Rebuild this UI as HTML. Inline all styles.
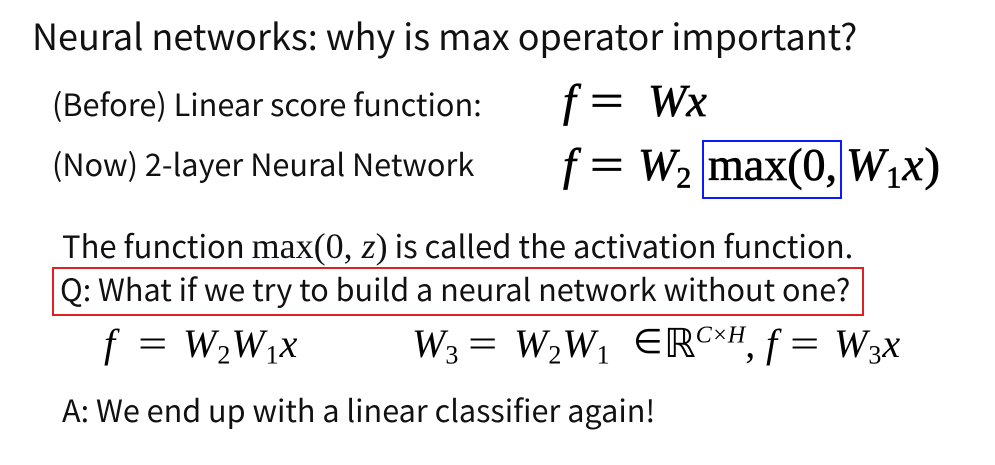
<!DOCTYPE html>
<html><head><meta charset="utf-8"><style>
body{margin:0;width:995px;height:465px;background:#fff;position:relative;overflow:hidden;font-family:"Noto Sans CJK SC","Liberation Sans",sans-serif;color:#111}
.t{position:absolute;white-space:nowrap;line-height:1}
.m{font-family:"Liberation Serif",serif;position:absolute;white-space:nowrap;line-height:1;color:#000}
.b{-webkit-text-stroke:0.7px #000}
i{font-style:italic}
sub{font-size:0.65em;vertical-align:-0.25em;line-height:0}
sup{font-size:0.6em;vertical-align:0.6em;line-height:0;font-style:italic}
</style></head><body>
<div class="t" style="left:32px;top:17px;font-size:36px">Neural networks: why is max operator important?</div>
<div class="t" style="left:52px;top:88px;font-size:30.7px">(Before) Linear score function:</div>
<div class="t" style="left:52px;top:148px;font-size:30.7px">(Now) 2-layer Neural Network</div>

<div class="m b" style="left:563px;top:78px;font-size:46px"><i>f</i></div>
<div class="m b" style="left:590px;top:78px;font-size:46px;transform:scaleX(1.3);transform-origin:left">=</div>
<div class="m b" style="left:648px;top:78px;font-size:46px"><i>Wx</i></div>

<div class="m b" style="left:563px;top:142px;font-size:46px"><i>f</i></div>
<div class="m b" style="left:590px;top:142px;font-size:46px;transform:scaleX(1.3);transform-origin:left">=</div>
<div class="m b" style="left:638px;top:142px;font-size:46px"><i>W</i><sub>2</sub></div>
<div class="m b" style="left:708px;top:142px;font-size:46px">max(0,</div>
<div class="m b" style="left:846px;top:142px;font-size:47px;letter-spacing:1px"><i>W</i><sub>1</sub><i>x</i>)</div>
<div style="position:absolute;left:702px;top:140px;width:136px;height:55px;border:2px solid #0a1aff"></div>

<div class="t" style="left:62px;top:228px;font-size:31px">The function <span style="font-family:'Liberation Serif',serif;font-size:36px">max(0, <i>z</i>)</span> is called the activation function.</div>
<div style="position:absolute;left:52px;top:267px;width:808px;height:45px;border:2px solid #e02020"></div>
<div class="t" style="left:60px;top:273px;font-size:30.6px">Q: What if we try to build a neural network without one?</div>

<div class="m" style="left:104px;top:324px;font-size:40px"><i>f</i></div>
<div class="m" style="left:138px;top:324px;font-size:40px;transform:scaleX(1.3);transform-origin:left">=</div>
<div class="m" style="left:183px;top:324px;font-size:40px;letter-spacing:1px"><i>W</i><sub>2</sub><i>W</i><sub>1</sub><i>x</i></div>

<div class="m" style="left:412px;top:324px;font-size:40px"><i>W</i><sub>3</sub></div>
<div class="m" style="left:468px;top:324px;font-size:40px;transform:scaleX(1.3);transform-origin:left">=</div>
<div class="m" style="left:514px;top:324px;font-size:40px;letter-spacing:1px"><i>W</i><sub>2</sub><i>W</i><sub>1</sub></div>
<div class="m" style="left:633px;top:326px;font-size:34px">∈</div>
<div class="m" style="left:664px;top:324px;font-size:40px">ℝ<sup>C×H</sup>,</div>
<div class="m" style="left:766px;top:324px;font-size:40px"><i>f</i></div>
<div class="m" style="left:790px;top:324px;font-size:40px;transform:scaleX(1.3);transform-origin:left">=</div>
<div class="m" style="left:834px;top:324px;font-size:40px;letter-spacing:1px"><i>W</i><sub>3</sub><i>x</i></div>

<div class="t" style="left:62px;top:394px;font-size:30.6px">A: We end up with a linear classifier again!</div>
</body></html>
